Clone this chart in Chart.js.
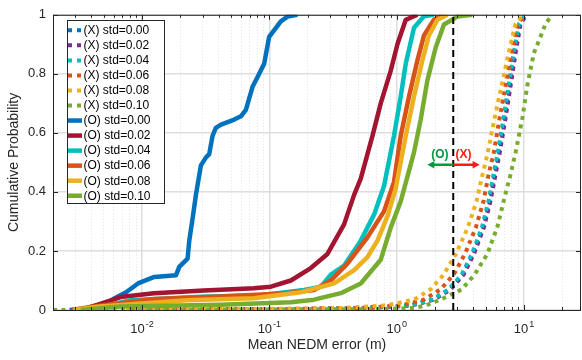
<!DOCTYPE html>
<html>
<head>
<meta charset="utf-8">
<script src="https://cdn.jsdelivr.net/npm/chart.js@4.4.1/dist/chart.umd.min.js"></script>
<style>
  html, body { margin: 0; padding: 0; background: #fff; }
  #wrap { width: 582px; height: 360px; }
</style>
</head>
<body>
<div id="wrap"><canvas id="cdf-chart" width="582" height="360"></canvas></div>
<script>
// Niveaux de probabilité communs aux courbes (X)
const xCdf = [0, 0.003, 0.007, 0.015, 0.035, 0.07, 0.12, 0.19, 0.28, 0.37, 0.46, 0.53, 0.65, 0.76, 0.87, 0.97, 1];

// Erreurs (m) des courbes (X) pour chaque niveau
const xStd000Err = [0.0098, 0.1735, 0.578, 1.265, 1.926, 2.604, 3.294, 3.967, 4.753, 5.362, 5.868, 6.309, 7.031, 7.699, 8.426, 9.221, 10.27];
const xStd002Err = [0.0098, 0.1767, 0.589, 1.288, 1.961, 2.652, 3.354, 4.04, 4.84, 5.46, 5.976, 6.425, 7.16, 7.84, 8.58, 9.39, 10.46];
const xStd004Err = [0.0098, 0.1735, 0.578, 1.253, 1.891, 2.558, 3.235, 3.897, 4.668, 5.266, 5.764, 6.197, 6.906, 7.562, 8.275, 9.137, 10.27];
const xStd006Err = [0.0085, 0.123, 0.5035, 1.075, 1.637, 2.214, 2.8, 3.434, 4.188, 4.813, 5.268, 5.765, 6.425, 7.16, 7.98, 8.89, 10.09];
const xStd008Err = [0.0075, 0.0716, 0.398, 0.82, 1.367, 1.848, 2.337, 2.918, 3.624, 4.242, 4.727, 5.173, 5.87, 6.66, 7.56, 8.58, 9.91];
const xStd010Err = [0.002, 0.749, 1.367, 1.69, 2.2, 3.25, 4.09, 5.15, 6.16, 6.93, 7.84, 8.55, 9.7, 10.6, 11.94, 14.8, 16.6];

// Courbes (O) : erreurs (m) et probabilités cumulées
const oStd000Err = [0.0027, 0.0045, 0.0052, 0.0061, 0.0075, 0.0093, 0.0125, 0.0185, 0.0196, 0.0228, 0.0235, 0.025, 0.0265, 0.029, 0.0318, 0.0337, 0.0358, 0.038, 0.0417, 0.053, 0.0598, 0.0654, 0.0738, 0.0808, 0.091, 0.0996, 0.123, 0.139, 0.166];
const oStd000Cdf = [0, 0.008, 0.02, 0.04, 0.06, 0.09, 0.112, 0.118, 0.146, 0.174, 0.235, 0.312, 0.39, 0.49, 0.517, 0.528, 0.59, 0.617, 0.628, 0.645, 0.656, 0.678, 0.756, 0.789, 0.834, 0.925, 0.978, 0.994, 1];

const oStd002Err = [0.0033, 0.0045, 0.0068, 0.0124, 0.0306, 0.0755, 0.1028, 0.1475, 0.2116, 0.286, 0.386, 0.463, 0.522, 0.645, 0.749, 0.897, 1.013, 1.177, 1.453];
const oStd002Cdf = [0, 0.018, 0.044, 0.057, 0.066, 0.074, 0.079, 0.1, 0.142, 0.19, 0.29, 0.39, 0.445, 0.59, 0.7, 0.81, 0.9, 0.983, 1];

const oStd004Err = [0.0036, 0.0082, 0.029, 0.0858, 0.1875, 0.2535, 0.304, 0.386, 0.522, 0.664, 0.795, 0.952, 1.075, 1.177, 1.367, 1.637, 1.96];
const oStd004Cdf = [0, 0.033, 0.045, 0.05, 0.068, 0.079, 0.12, 0.15, 0.235, 0.323, 0.42, 0.59, 0.723, 0.834, 0.956, 0.995, 1];

const oStd006Err = [0.0028, 0.0042, 0.0124, 0.0417, 0.137, 0.2245, 0.304, 0.41, 0.589, 0.795, 0.952, 1.075, 1.249, 1.453, 1.637, 1.96, 2.35];
const oStd006Cdf = [0, 0.012, 0.037, 0.046, 0.057, 0.068, 0.1, 0.157, 0.246, 0.334, 0.434, 0.59, 0.723, 0.845, 0.93, 0.983, 1];

const oStd008Err = [0.0029, 0.0047, 0.0225, 0.0755, 0.1767, 0.322, 0.463, 0.589, 0.706, 0.85, 0.982, 1.177, 1.367, 1.59, 1.79, 2.085, 2.5];
const oStd008Cdf = [0, 0.012, 0.033, 0.04, 0.06, 0.09, 0.135, 0.179, 0.235, 0.32, 0.412, 0.59, 0.723, 0.845, 0.93, 0.983, 1];

const oStd010Err = [0.0033, 0.0068, 0.0417, 0.1475, 0.2245, 0.364, 0.522, 0.749, 0.897, 1.075, 1.367, 1.543, 1.741, 2.023, 2.35, 2.99, 3.92];
const oStd010Cdf = [0, 0.012, 0.018, 0.026, 0.035, 0.057, 0.09, 0.17, 0.279, 0.368, 0.534, 0.645, 0.778, 0.889, 0.967, 0.994, 1];

// Libellés des graduations
const stdLabels = ["0.00", "0.02", "0.04", "0.06", "0.08", "0.10"];
const xTickExposants = [-2, -1, 0, 1];

// Seuil et flèches d'annotation (unités des données)
const seuilErreur = 2.78;
const flecheY = 0.492;
const flecheGauche = 1.74;
const flecheDroite = 4.48;
const etiquetteY = 0.525;
const etiquetteOx = 2.18;
const etiquetteXx = 3.35;

const police = "'Liberation Sans', Arial, Helvetica, sans-serif";
const couleursX = ["#0072BD", "#7E2F8E", "#00BFBF", "#D95319", "#EDB120", "#77AC30"];
const couleursO = ["#0072BD", "#A2142F", "#00BFBF", "#D95319", "#EDB120", "#77AC30"];

function toPoints(errs, cdf) {
  return errs.map((e, i) => ({ x: e, y: cdf[i] }));
}

function isMajor(v) {
  const l = Math.log10(v);
  return Math.abs(l - Math.round(l)) < 1e-9;
}

const xSeries = [xStd000Err, xStd002Err, xStd004Err, xStd006Err, xStd008Err, xStd010Err];
const oSeries = [
  [oStd000Err, oStd000Cdf],
  [oStd002Err, oStd002Cdf],
  [oStd004Err, oStd004Cdf],
  [oStd006Err, oStd006Cdf],
  [oStd008Err, oStd008Cdf],
  [oStd010Err, oStd010Cdf],
];

const datasets = [];
xSeries.forEach((errs, i) => {
  datasets.push({
    label: "(X) std=" + stdLabels[i],
    data: toPoints(errs, xCdf),
    borderColor: couleursX[i],
    borderWidth: 4,
    borderDash: [4, 4.5],
    borderCapStyle: "butt",
  });
});
oSeries.forEach(([errs, cdf], i) => {
  datasets.push({
    label: "(O) std=" + stdLabels[i],
    data: toPoints(errs, cdf),
    borderColor: couleursO[i],
    borderWidth: 4.5,
    borderDash: [],
    borderCapStyle: "butt",
  });
});
// les dernières séries sont dessinées au-dessus (comme MATLAB)
datasets.forEach((d, i) => { d.order = 20 - i; });
datasets.push({
  label: "",
  data: [{ x: seuilErreur, y: 0 }, { x: seuilErreur, y: 1 }],
  borderColor: "#000",
  borderWidth: 2,
  borderDash: [7, 4],
  order: 0,
});

// Cadre, graduations internes, libellés 10^n, flèches et légende
const decorPlugin = {
  id: "decor",
  afterDatasetsDraw(chart) {
    const { ctx, chartArea: a, scales } = chart;
    const xs = scales.x, ys = scales.y;
    ctx.save();

    // flèches (O) / (X)
    const yPix = ys.getPixelForValue(flecheY);
    const xc = xs.getPixelForValue(seuilErreur);
    const drawArrow = (x0, x1, color) => {
      const dir = Math.sign(x1 - x0);
      ctx.strokeStyle = color;
      ctx.fillStyle = color;
      ctx.lineWidth = 2.5;
      ctx.beginPath();
      ctx.moveTo(x0, yPix);
      ctx.lineTo(x1 - dir * 5, yPix);
      ctx.stroke();
      ctx.beginPath();
      ctx.moveTo(x1, yPix);
      ctx.lineTo(x1 - dir * 7, yPix - 3.8);
      ctx.lineTo(x1 - dir * 7, yPix + 3.8);
      ctx.closePath();
      ctx.fill();
    };
    drawArrow(xc, xs.getPixelForValue(flecheGauche), "#00993d");
    drawArrow(xc, xs.getPixelForValue(flecheDroite), "#ff1a1a");
    ctx.font = "bold 12px " + police;
    ctx.textAlign = "center";
    ctx.textBaseline = "middle";
    ctx.fillStyle = "#00993d";
    ctx.fillText("(O)", xs.getPixelForValue(etiquetteOx), ys.getPixelForValue(etiquetteY));
    ctx.fillStyle = "#ff1a1a";
    ctx.fillText("(X)", xs.getPixelForValue(etiquetteXx), ys.getPixelForValue(etiquetteY));

    // cadre
    ctx.strokeStyle = "#262626";
    ctx.lineWidth = 1;
    ctx.strokeRect(a.left + 0.5, a.top + 0.5, a.right - a.left - 1, a.bottom - a.top);

    // graduations internes
    ctx.beginPath();
    xs.ticks.forEach((t) => {
      const p = Math.round(xs.getPixelForValue(t.value)) + 0.5;
      const len = isMajor(t.value) ? 5 : 3;
      ctx.moveTo(p, a.bottom);
      ctx.lineTo(p, a.bottom - len);
      ctx.moveTo(p, a.top);
      ctx.lineTo(p, a.top + len);
    });
    ys.ticks.forEach((t) => {
      const p = Math.round(ys.getPixelForValue(t.value)) + 0.5;
      ctx.moveTo(a.left, p);
      ctx.lineTo(a.left + 5, p);
      ctx.moveTo(a.right, p);
      ctx.lineTo(a.right - 5, p);
    });
    ctx.stroke();

    // libellés 10^n
    ctx.fillStyle = "#262626";
    ctx.textAlign = "left";
    ctx.textBaseline = "alphabetic";
    xTickExposants.forEach((e) => {
      const p = xs.getPixelForValue(Math.pow(10, e));
      ctx.font = "13px " + police;
      const wBase = ctx.measureText("10").width;
      ctx.font = "9px " + police;
      const wExp = ctx.measureText(String(e)).width;
      const start = p - (wBase + wExp + 1) / 2;
      ctx.font = "13px " + police;
      ctx.fillText("10", start, a.bottom + 23);
      ctx.font = "9px " + police;
      ctx.fillText(String(e), start + wBase + 1, a.bottom + 17);
    });

    // légende
    const lx = 67, ly = 20, lw = 97, lh = 183, rowH = 15.04;
    ctx.fillStyle = "#fff";
    ctx.fillRect(lx, ly, lw, lh);
    ctx.strokeStyle = "#262626";
    ctx.lineWidth = 1;
    ctx.strokeRect(lx + 0.5, ly + 0.5, lw, lh);
    ctx.font = "12px " + police;
    ctx.textBaseline = "middle";
    chart.data.datasets.filter((d) => d.label).forEach((d, i) => {
      const yRow = ly + 10.3 + i * rowH;
      ctx.strokeStyle = d.borderColor;
      ctx.lineWidth = d.borderWidth;
      ctx.lineCap = "butt";
      ctx.setLineDash(d.borderDash.length ? [4, 5] : []);
      ctx.beginPath();
      ctx.moveTo(68, yRow);
      ctx.lineTo(82, yRow);
      ctx.stroke();
      ctx.setLineDash([]);
      ctx.fillStyle = "#000";
      ctx.fillText(d.label, 83.5, yRow + 0.5);
    });
    ctx.restore();
  },
};

new Chart(document.getElementById("cdf-chart"), {
  type: "line",
  data: { datasets },
  options: {
    responsive: false,
    animation: false,
    devicePixelRatio: 1,
    events: [],
    layout: { padding: { top: 10, right: 1, left: 0, bottom: 0 } },
    elements: {
      point: { radius: 0 },
      line: { tension: 0, fill: false, borderJoinStyle: "round" },
    },
    plugins: {
      legend: { display: false },
      tooltip: { enabled: false },
    },
    scales: {
      x: {
        type: "logarithmic",
        min: 0.002,
        max: 28,
        afterBuildTicks(scale) {
          const ticks = [];
          for (let e = -3; e <= 1; e++) {
            for (let m = 1; m <= 9; m++) {
              const v = m * Math.pow(10, e);
              if (v >= 0.002 && v <= 28) ticks.push({ value: v });
            }
          }
          scale.ticks = ticks;
        },
        afterFit(scale) { scale.height = 50; },
        ticks: { display: false, autoSkip: false },
        grid: {
          drawTicks: false,
          color: (c) => (c.tick && isMajor(c.tick.value) ? "#dedede" : "#e2e2e2"),
          lineWidth: (c) => (c.tick && isMajor(c.tick.value) ? 1.5 : 1),
        },
        border: {
          display: false,
          dash: (c) => (c.tick && !isMajor(c.tick.value) ? [1, 2] : []),
        },
        title: {
          display: true,
          text: "Mean NEDM error (m)",
          color: "#262626",
          font: { family: police, size: 14 },
          padding: { top: 0, bottom: 6 },
        },
      },
      y: {
        min: 0,
        max: 1,
        afterFit(scale) { scale.width = 53; },
        ticks: {
          stepSize: 0.2,
          padding: 7,
          color: "#262626",
          font: { family: police, size: 13 },
          callback: (v) => String(+v.toFixed(1)),
        },
        grid: { drawTicks: false, color: "#dedede", lineWidth: 1.5 },
        border: { display: false },
        title: {
          display: true,
          text: "Cumulative Probability",
          color: "#262626",
          font: { family: police, size: 14 },
          padding: { top: 6, bottom: 0 },
        },
      },
    },
  },
  plugins: [decorPlugin],
});
</script>
</body>
</html>
